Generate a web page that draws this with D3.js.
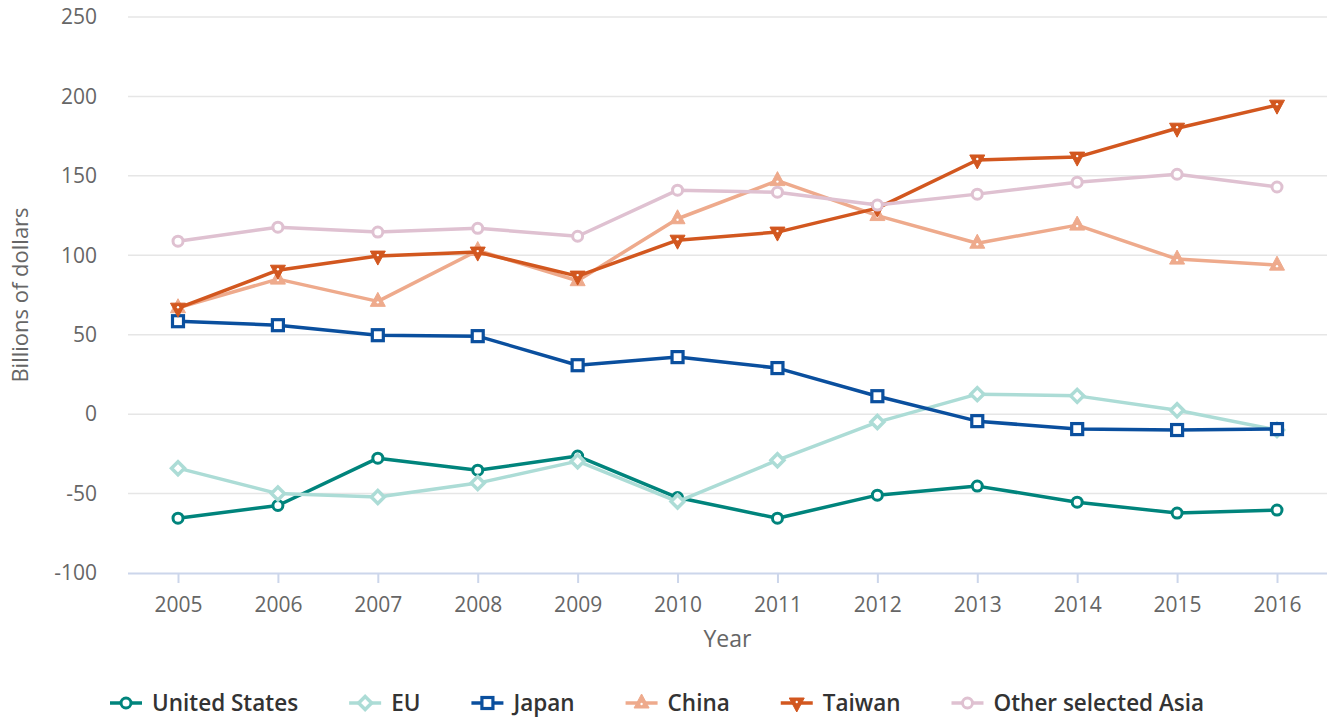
<!DOCTYPE html>
<html><head><meta charset="utf-8">
<script src="https://cdn.jsdelivr.net/npm/d3@7"></script>
<style>body{margin:0;background:#fff}svg{display:block;font-family:"Open Sans",sans-serif}</style>
</head><body><svg id="c" width="1331" height="719"></svg>
<script>
const years = ["2005","2006","2007","2008","2009","2010","2011","2012","2013","2014","2015","2016"];
const yTicks = [-100,-50,0,50,100,150,200,250];
const unitedStates = [-65.5,-57.5,-27.7,-35.3,-26.4,-52.5,-65.5,-51,-45.3,-55.4,-62.3,-60.4];
const eu = [-34,-50,-52.2,-43.4,-29.6,-55,-29,-5,12.6,11.5,2.5,-10];
const japan = [58.5,56,49.7,49.1,30.8,35.9,29,11.3,-4.4,-9.4,-10,-9.4];
const china = [67,85,71,103,84,123,147,125,107.6,119,97.6,93.8];
const taiwan = [66.7,90.6,99.5,102,86.9,109.5,114.6,129.7,160,161.8,180,194.5];
const otherAsia = [108.9,117.7,114.6,117,112,141,139.7,131.6,138.5,146,151,143];
const seriesNames = ["United States","EU","Japan","China","Taiwan","Other selected Asia"];
const seriesValues = [unitedStates, eu, japan, china, taiwan, otherAsia];
const colors = ["#00847c","#acdcd6","#0a4f9e","#eeaa8c","#d2571f","#dfc1d1"];
const symbols = ["circle","diamond","square","triangle","triangleDown","circle"];

(function(){
const svg = d3.select("#c");
const pLeft = 128, pRight = 1327, pTop = 17, pBottom = 573;
const x = d3.scalePoint().domain(years).range([178, 1277]);
const y = d3.scaleLinear().domain([-100, 250]).range([pBottom, pTop]);

svg.append("g").selectAll("line").data(yTicks.filter(d => d !== -100)).join("line")
  .attr("x1", pLeft).attr("x2", pRight).attr("y1", d => y(d)).attr("y2", d => y(d))
  .attr("stroke", "#e6e6e6").attr("stroke-width", 1.5);

const ya = svg.append("g").attr("transform", `translate(${pLeft},0)`)
  .call(d3.axisLeft(y).tickValues(yTicks).tickFormat(d => String(d)).tickSize(0).tickPadding(31));
ya.select(".domain").remove();
ya.selectAll("text").attr("font-size", 21).attr("fill", "#666").attr("font-family", "Open Sans");

const xa = svg.append("g").attr("transform", `translate(0,${pBottom})`)
  .call(d3.axisBottom(x).tickSize(10).tickPadding(14));
xa.select(".domain").attr("d", `M${pLeft},0.5H${pRight}`).attr("stroke", "#ccd6eb").attr("stroke-width", 2);
xa.selectAll(".tick line").attr("stroke", "#ccd6eb").attr("stroke-width", 2);
xa.selectAll("text").attr("font-size", 21).attr("fill", "#666").attr("font-family", "Open Sans");

svg.append("text").attr("x", (pLeft + pRight) / 2).attr("y", 647).attr("text-anchor", "middle")
  .attr("font-size", 23).attr("fill", "#666").text("Year");
svg.append("text").attr("transform", `translate(28,${(pTop + pBottom) / 2}) rotate(-90)`)
  .attr("text-anchor", "middle").attr("font-size", 22).attr("fill", "#666").text("Billions of dollars");

function drawMarker(g, type, color, cx, cy) {
  if (type === "circle") {
    g.append("circle").attr("cx", cx).attr("cy", cy).attr("r", 5)
      .attr("fill", "#fff").attr("stroke", color).attr("stroke-width", 3);
  } else if (type === "square") {
    g.append("rect").attr("x", cx - 5.5).attr("y", cy - 5.5).attr("width", 11).attr("height", 11)
      .attr("fill", "#fff").attr("stroke", color).attr("stroke-width", 3.2);
  } else if (type === "diamond") {
    g.append("path").attr("d", `M${cx},${cy-6.5}L${cx+6.5},${cy}L${cx},${cy+6.5}L${cx-6.5},${cy}Z`)
      .attr("fill", "#fff").attr("stroke", color).attr("stroke-width", 3.5);
  } else if (type === "triangle") {
    g.append("path").attr("d", `M${cx},${cy-9}L${cx+7.5},${cy+5}L${cx-7.5},${cy+5}Z`)
      .attr("fill", color).attr("stroke", color).attr("stroke-width", 1);
    g.append("circle").attr("cx", cx).attr("cy", cy + 1).attr("r", 1.2).attr("fill", "#fff");
  } else if (type === "triangleDown") {
    g.append("path").attr("d", `M${cx},${cy+9}L${cx+7.5},${cy-5}L${cx-7.5},${cy-5}Z`)
      .attr("fill", color).attr("stroke", color).attr("stroke-width", 1);
    g.append("circle").attr("cx", cx).attr("cy", cy - 1).attr("r", 1.2).attr("fill", "#fff");
  }
}

const line = d3.line().x((d, i) => x(years[i])).y(d => y(d));
seriesValues.forEach((vals, si) => {
  const g = svg.append("g");
  g.append("path").datum(vals).attr("d", line).attr("fill", "none")
    .attr("stroke", colors[si]).attr("stroke-width", 3.5).attr("stroke-linejoin", "round");
  vals.forEach((v, i) => drawMarker(g, symbols[si], colors[si], x(years[i]), y(v)));
});

const lg = svg.append("g");
let lx = 110;
const ly = 703;
seriesNames.forEach((name, si) => {
  const g = lg.append("g");
  g.append("line").attr("x1", lx).attr("x2", lx + 32).attr("y1", ly).attr("y2", ly)
    .attr("stroke", colors[si]).attr("stroke-width", 3.5);
  drawMarker(g, symbols[si], colors[si], lx + 16, ly);
  const t = g.append("text").attr("x", lx + 42).attr("y", ly + 8).attr("font-size", 22.5)
    .attr("font-weight", 600).attr("fill", "#333").text(name);
  lx += 42 + t.node().getComputedTextLength() + 51;
});
})();
</script></body></html>
